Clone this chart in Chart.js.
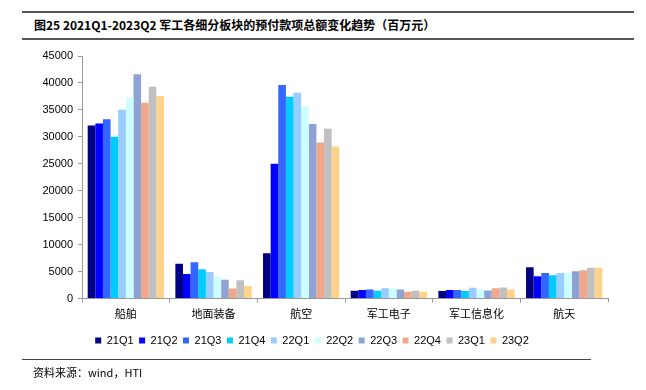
<!DOCTYPE html>
<html>
<head>
<meta charset="utf-8">
<script src="https://cdn.jsdelivr.net/npm/chart.js@4/dist/chart.umd.min.js"></script>
<style>
  body { margin: 0; background: #fff; width: 646px; height: 390px; position: relative; overflow: hidden; font-family: "Noto Sans CJK SC", sans-serif; }
  .linie { position: absolute; left: 22px; background: #555; }
  #titel { position: absolute; left: 34px; top: 16px; font-size: 12px; font-weight: bold; color: #000; white-space: nowrap; line-height: 18px; }
  #quelle { position: absolute; left: 33px; top: 364px; font-size: 11px; color: #000; white-space: nowrap; line-height: 16px; }
  #box { position: absolute; left: 0; top: 40px; width: 646px; height: 320px; }
</style>
</head>
<body>

<div class="linie" style="top:11px; width:612px; height:2px;"></div>
<div id="titel">图25 2021Q1-2023Q2 军工各细分板块的预付款项总额变化趋势（百万元）</div>
<div class="linie" style="top:38px; width:612px; height:2px;"></div>

<div id="box"><canvas id="chart1" width="646" height="320"></canvas></div>

<div class="linie" style="top:359px; width:569px; height:1px; background:#444;"></div>
<div id="quelle">资料来源：wind，HTI</div>

<script>

// Kategorien und Quartale
var kategorien = ['船舶', '地面装备', '航空', '军工电子', '军工信息化', '航天'];
var quartale = ['21Q1', '21Q2', '21Q3', '21Q4', '22Q1', '22Q2', '22Q3', '22Q4', '23Q1', '23Q2'];

// Werte je Quartal (Reihenfolge wie kategorien)
var q21Q1 = [32100, 6430, 8380, 1440, 1380, 5810];
var q21Q2 = [32480, 4560, 25000, 1560, 1560, 4130];
var q21Q3 = [33280, 6750, 39640, 1690, 1560, 4750];
var q21Q4 = [30030, 5440, 37440, 1440, 1380, 4310];
var q22Q1 = [35030, 4930, 38190, 1880, 2000, 4750];
var q22Q2 = [37350, 4000, 35570, 1880, 1690, 4750];
var q22Q3 = [41600, 3490, 32380, 1690, 1500, 5060];
var q22Q4 = [36340, 1870, 28940, 1250, 1880, 5250];
var q23Q1 = [39280, 3370, 31500, 1440, 2060, 5690];
var q23Q2 = [37530, 2300, 28190, 1250, 1690, 5690];

var yTicks = [0, 5000, 10000, 15000, 20000, 25000, 30000, 35000, 40000, 45000];

var werte = [q21Q1, q21Q2, q21Q3, q21Q4, q22Q1, q22Q2, q22Q3, q22Q4, q23Q1, q23Q2];
var farben = ['#000080', '#0000FF', '#3366FF', '#00CCFF', '#99CCFF', '#CCFFFF', '#8FA2D4', '#F2A68A', '#C0C0C0', '#FFD28A'];

setChart();


function setChart() {

  var datasets = new Array;
  for (let i = 0; i < quartale.length; i++) {
    datasets.push({
      label: quartale[i],
      data: werte[i],
      backgroundColor: farben[i],
      borderWidth: 0,
      categoryPercentage: 0.87,
      barPercentage: 1.0
    });
  }

  const ctx1 = document.getElementById('chart1').getContext('2d');
  const chart1 = new Chart(ctx1, {
    type: 'bar',
    data: {
      labels: kategorien,
      datasets: datasets
    },
    options: {
      responsive: false,
      animation: false,
      layout: {
        padding: { left: 16, right: 38, top: 16, bottom: 4 }
      },
      plugins: {
        tooltip: { enabled: false },
        title: { display: false },
        legend: {
          position: 'bottom',
          labels: {
            boxWidth: 6,
            boxHeight: 6,
            padding: 5.5,
            color: '#000',
            font: { family: 'Arial, "Liberation Sans"', size: 11 }
          }
        }
      },
      scales: {
        x: {
          grid: {
            display: true,
            drawOnChartArea: false,
            drawTicks: true,
            tickLength: 4,
            color: '#999'
          },
          border: { color: '#999', width: 1 },
          ticks: {
            color: '#000',
            padding: 5,
            font: { family: '"Noto Sans CJK SC"', size: 11 }
          },
          afterFit: function(scale) { scale.height = 31; }
        },
        y: {
          min: 0,
          max: 45000,
          afterBuildTicks: function(scale) {
            scale.ticks = yTicks.map(function(v) { return { value: v }; });
          },
          grid: {
            display: true,
            drawOnChartArea: false,
            drawTicks: true,
            tickLength: 4,
            color: '#999'
          },
          border: { color: '#999', width: 1 },
          ticks: {
            color: '#000',
            padding: 5,
            font: { family: 'Arial, "Liberation Sans"', size: 11 },
            callback: function(v) { return v + ''; }
          },
          afterFit: function(scale) { scale.width = 66; }
        }
      }
    }
  });
}

</script>
</body>
</html>
